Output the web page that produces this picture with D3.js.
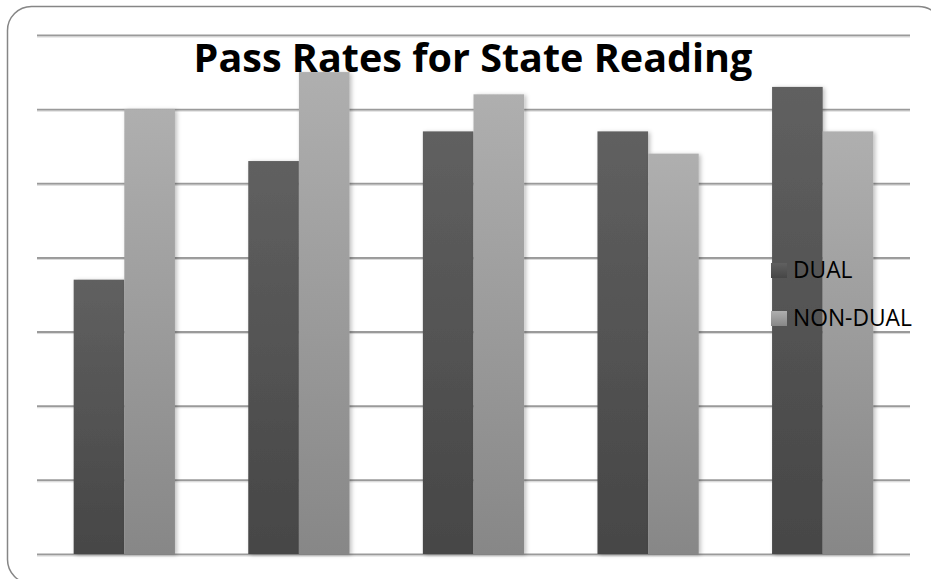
<!DOCTYPE html>
<html><head><meta charset="utf-8">
<script src="https://cdn.jsdelivr.net/npm/d3@7/dist/d3.min.js"></script>
<style>body{margin:0;background:#fff;overflow:hidden}svg{display:block}</style>
</head><body>
<script>
const categories = ["Group 1", "Group 2", "Group 3", "Group 4", "Group 5"];
const seriesNames = ["DUAL", "NON-DUAL"];
const dualValues = [67, 83, 87, 87, 93];
const nonDualValues = [90, 95, 92, 84, 87];
const yTicks = [30, 40, 50, 60, 70, 80, 90, 100];
const titleText = "Pass Rates for State Reading";

const W = 931, H = 579;
const plot = {left: 37, right: 910, top: 35, bottom: 554};
const svg = d3.select("body").append("svg").attr("width", W).attr("height", H);
const defs = svg.append("defs");

function grad(id, top, bottom) {
  const g = defs.append("linearGradient").attr("id", id).attr("x1", 0).attr("y1", 0).attr("x2", 0).attr("y2", 1);
  g.append("stop").attr("offset", "0%").attr("stop-color", top);
  g.append("stop").attr("offset", "100%").attr("stop-color", bottom);
}
grad("gDual", "#606060", "#464646");
grad("gNon", "#afafaf", "#878787");
const f = defs.append("filter").attr("id", "sh").attr("x", "-20%").attr("y", "-5%").attr("width", "150%").attr("height", "115%");
f.append("feDropShadow").attr("dx", 2).attr("dy", 1).attr("stdDeviation", 2).attr("flood-color", "#000").attr("flood-opacity", 0.25);

// outer border (extends past right/bottom edge like the reference)
svg.append("rect").attr("x", 7.5).attr("y", 6.5).attr("width", 935).attr("height", 577)
  .attr("rx", 24).attr("ry", 24).attr("fill", "#fff").attr("stroke", "#868686").attr("stroke-width", 1.5);

const y = d3.scaleLinear().domain([30, 100]).range([plot.bottom, plot.top]);
const x0 = d3.scaleBand().domain(categories).range([plot.left, plot.right]).paddingInner(0.42).paddingOuter(0.21);
const x1 = d3.scaleBand().domain(seriesNames).range([0, x0.bandwidth()]);

// gridlines via axis
const grid = svg.append("g").attr("transform", `translate(${plot.left},0)`)
  .call(d3.axisLeft(y).tickValues(yTicks).tickSize(-(plot.right - plot.left)).tickFormat(""));
grid.select(".domain").remove();
grid.selectAll(".tick line").attr("stroke", "#9a9a9a").attr("stroke-width", 2);
const grid2 = svg.append("g").attr("transform", `translate(${plot.left},1.5)`)
  .call(d3.axisLeft(y).tickValues(yTicks).tickSize(-(plot.right - plot.left)).tickFormat(""));
grid2.select(".domain").remove();
grid2.selectAll(".tick line").attr("stroke", "#d8d8d8").attr("stroke-width", 1);

const data = categories.map((c, i) => ({cat: c, vals: [
  {name: "DUAL", v: dualValues[i], fill: "url(#gDual)"},
  {name: "NON-DUAL", v: nonDualValues[i], fill: "url(#gNon)"}]}));

const groups = svg.append("g").selectAll("g").data(data).join("g")
  .attr("transform", d => `translate(${x0(d.cat)},0)`);
groups.selectAll("rect").data(d => d.vals).join("rect")
  .attr("x", d => x1(d.name)).attr("width", x1.bandwidth())
  .attr("y", d => y(d.v)).attr("height", d => y(30) - y(d.v))
  .attr("fill", d => d.fill).attr("filter", "url(#sh)");

// title
const t = svg.append("text").attr("x", 473).attr("y", 72).attr("text-anchor", "middle")
  .attr("font-family", "Open Sans, Lato, sans-serif").attr("font-weight", "bold")
  .attr("font-size", 40).attr("fill", "#000").text(titleText);
const tw = t.node().getComputedTextLength();
t.attr("font-size", 40 * 559 / tw);

// legend
const legend = svg.append("g");
const legItems = [{name: seriesNames[0], fill: "url(#gDual)", y: 263}, {name: seriesNames[1], fill: "url(#gNon)", y: 311}];
const texts = legItems.map(it => {
  legend.append("rect").attr("x", 771).attr("y", it.y).attr("width", 16).attr("height", 15).attr("fill", it.fill);
  return legend.append("text").attr("x", 793).attr("y", it.y + 15)
    .attr("font-family", "Open Sans, Lato, sans-serif").attr("font-size", 17).attr("fill", "#000").text(it.name);
});
const lw = texts[1].node().getComputedTextLength();
const lfs = 17 * 119 / lw;
texts.forEach(tx => tx.attr("font-size", lfs));
</script>
</body></html>
